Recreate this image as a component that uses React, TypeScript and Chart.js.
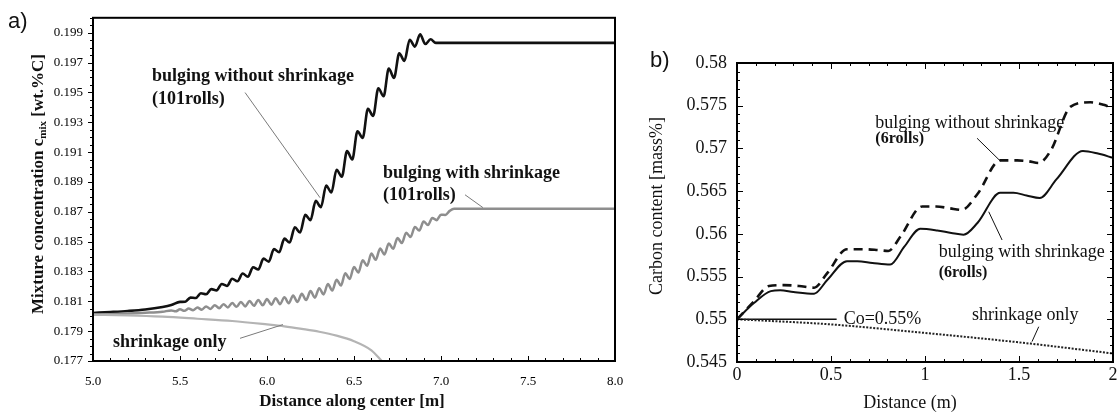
import React, { useEffect, useRef } from 'react';
import { Chart, registerables } from 'chart.js';

Chart.register(...registerables);

const SERIF = '"Liberation Serif", "Times New Roman", serif';
const SANS = '"Liberation Sans", Arial, sans-serif';

// ---------------- Panel a) data ----------------
const aXTicks = [5.0, 5.5, 6.0, 6.5, 7.0, 7.5, 8.0];
const aYTicks = [0.177, 0.179, 0.181, 0.183, 0.185, 0.187, 0.189, 0.191, 0.193, 0.195, 0.197, 0.199];

const aNoShrinkX = [5.0, 5.1, 5.2, 5.3, 5.4, 5.45,
  5.50, 5.53, 5.56, 5.59, 5.62, 5.65, 5.68, 5.71, 5.74, 5.77, 5.80, 5.83, 5.86, 5.89, 5.92, 5.95, 5.98,
  6.01, 6.04, 6.07, 6.10, 6.13, 6.16, 6.19, 6.22, 6.25, 6.28, 6.31, 6.34, 6.37, 6.40, 6.43, 6.46, 6.49,
  6.52, 6.55, 6.58, 6.61, 6.64, 6.67, 6.70, 6.73, 6.76, 6.79, 6.82, 6.85, 6.88, 6.91, 6.94, 6.97, 8.0];
const aNoShrinkY = [0.18022, 0.18028, 0.18035, 0.18045, 0.18062, 0.18075,
  0.18096, 0.18097, 0.18125, 0.18122, 0.18154, 0.18147, 0.18182, 0.18173, 0.18216, 0.18203, 0.18251, 0.18234,
  0.18286, 0.18265, 0.18328, 0.18313, 0.18386, 0.18366, 0.18450, 0.18429, 0.18520, 0.18494, 0.18596, 0.18561,
  0.18679, 0.18644, 0.18773, 0.18731, 0.18876, 0.18829, 0.18982, 0.18935, 0.19107, 0.19050, 0.19240, 0.19195,
  0.19390, 0.19342, 0.19528, 0.19474, 0.19660, 0.19597, 0.19762, 0.19711, 0.19853, 0.19807, 0.19889, 0.19824,
  0.19856, 0.19832, 0.19832];

const aWithShrinkX = [5.0, 5.1, 5.2, 5.3, 5.4,
  5.450, 5.475, 5.500, 5.525, 5.550, 5.575, 5.600, 5.625, 5.650, 5.675, 5.700, 5.725, 5.750, 5.775, 5.800,
  5.825, 5.850, 5.875, 5.900, 5.925, 5.950, 5.975, 6.000, 6.025, 6.050, 6.075, 6.100, 6.125, 6.150, 6.175,
  6.200, 6.225, 6.250, 6.275, 6.300, 6.325, 6.350, 6.375, 6.400, 6.425, 6.450, 6.475, 6.500, 6.525, 6.550,
  6.575, 6.600, 6.625, 6.650, 6.675, 6.700, 6.725, 6.750, 6.775, 6.800, 6.825, 6.850, 6.875, 6.900, 6.925,
  6.950, 6.975, 7.000, 7.025, 7.050, 7.075, 8.0];
const aWithShrinkY = [0.18011, 0.18014, 0.18018, 0.18023, 0.18030,
  0.18039, 0.18033, 0.18046, 0.18036, 0.18052, 0.18040, 0.18058, 0.18044, 0.18066, 0.18049, 0.18074, 0.18054,
  0.18081, 0.18059, 0.18089, 0.18063, 0.18096, 0.18066, 0.18102, 0.18070, 0.18109, 0.18073, 0.18115, 0.18077,
  0.18121, 0.18081, 0.18128, 0.18087, 0.18139, 0.18096, 0.18150, 0.18108, 0.18169, 0.18124, 0.18188, 0.18146,
  0.18216, 0.18172, 0.18245, 0.18206, 0.18288, 0.18249, 0.18330, 0.18293, 0.18375, 0.18338, 0.18420, 0.18378,
  0.18454, 0.18414, 0.18488, 0.18452, 0.18524, 0.18491, 0.18560, 0.18531, 0.18598, 0.18574, 0.18635, 0.18611,
  0.18658, 0.18644, 0.18680, 0.18679, 0.18706, 0.18720, 0.18720];

const aShrinkOnlyX = [5.0, 5.2, 5.4, 5.6, 5.8, 6.0, 6.1, 6.2, 6.3, 6.4, 6.5, 6.6, 6.66];
const aShrinkOnlyY = [0.18011, 0.18006, 0.17997, 0.17983, 0.17968, 0.17945, 0.17932, 0.17915, 0.17896, 0.17870, 0.17833, 0.17772, 0.17700];

const aNotes = [
  { text: 'bulging without shrinkage', x: 5.339, y: 0.19605 },
  { text: '(101rolls)', x: 5.339, y: 0.19453 },
  { text: 'bulging with shrinkage', x: 6.667, y: 0.18959 },
  { text: '(101rolls)', x: 6.667, y: 0.18807 },
  { text: 'shrinkage only', x: 5.115, y: 0.17825 },
];
const aLeaders = [
  [5.874, 0.19499, 6.305, 0.18794],
  [7.138, 0.18814, 7.241, 0.18728],
  [5.845, 0.17852, 6.092, 0.17944],
];

// ---------------- Panel b) data ----------------
const bXTicks = [0, 0.5, 1, 1.5, 2];
const bYTicks = [0.545, 0.55, 0.555, 0.56, 0.565, 0.57, 0.575, 0.58];

const bNoShrinkX = [0, 0.09, 0.17, 0.25, 0.33, 0.41, 0.48, 0.585, 0.67, 0.75, 0.805, 0.87, 0.985, 1.06, 1.13,
  1.195, 1.28, 1.40, 1.49, 1.55, 1.605, 1.67, 1.775, 1.88, 1.95, 2.0];
const bNoShrinkY = [0.5500, 0.5521, 0.5539, 0.5540, 0.5539, 0.5537, 0.5554, 0.5582, 0.5582, 0.5581, 0.5580,
  0.5597, 0.5632, 0.5632, 0.5630, 0.5628, 0.5647, 0.5686, 0.5686, 0.5685, 0.5683, 0.5698, 0.5749, 0.5754,
  0.5751, 0.5747];

const bWithShrinkX = [0, 0.09, 0.18, 0.23, 0.30, 0.41, 0.48, 0.585, 0.64, 0.72, 0.815, 0.89, 0.975, 1.065,
  1.14, 1.205, 1.28, 1.40, 1.47, 1.54, 1.61, 1.70, 1.84, 1.92, 2.0];
const bWithShrinkY = [0.5500, 0.5519, 0.5533, 0.5534, 0.5532, 0.5530, 0.5546, 0.5568, 0.5568, 0.5566, 0.5564,
  0.5585, 0.5606, 0.5604, 0.5601, 0.5599, 0.5613, 0.5648, 0.5648, 0.5645, 0.5642, 0.5664, 0.5697, 0.5694, 0.5689];

const bShrinkOnlyX = [0, 0.5, 1.0, 1.5, 2.0];
const bShrinkOnlyY = [0.5500, 0.5494, 0.5484, 0.5473, 0.5460];

const bCoX = [0, 0.53];
const bCoY = [0.55, 0.55];

const bNotes = [
  { text: 'bulging without shrinkage', x: 0.736, y: 0.57294, bold: false },
  { text: '(6rolls)', x: 0.736, y: 0.57107, bold: true },
  { text: 'bulging with shrinkage', x: 1.073, y: 0.55779, bold: false },
  { text: '(6rolls)', x: 1.073, y: 0.55538, bold: true },
  { text: 'shrinkage only', x: 1.25, y: 0.5505, bold: false },
  { text: 'Co=0.55%', x: 0.5676, y: 0.55, bold: false },
];
const bLeaders = [
  [1.277, 0.57119, 1.4005, 0.56853],
  [1.41, 0.55928, 1.339, 0.56259],
  [1.605, 0.54913, 1.569, 0.54738],
];

const pts = (xs: number[], ys: number[]) => xs.map((x, i) => ({ x, y: ys[i] }));

// ---------------- decoration plugin ----------------
const decorPlugin = {
  id: 'decor',
  afterDraw(chart: any, _a: any, o: any) {
    const { ctx, chartArea: ca, scales } = chart;
    const xs = scales.x, ys = scales.y;
    ctx.save();
    // frame
    ctx.strokeStyle = '#000';
    ctx.lineWidth = o.frameWidth;
    ctx.strokeRect(ca.left, ca.top, ca.right - ca.left, ca.bottom - ca.top);
    // ticks
    ctx.lineWidth = 1;
    ctx.beginPath();
    const t = o.ticks;
    const nx = Math.round((xs.max - xs.min) / t.xStep);
    for (let i = 0; i <= nx; i++) {
      const px = Math.round(xs.getPixelForValue(xs.min + i * t.xStep)) + 0.5;
      const len = i % t.xMajor === 0 ? t.majorLen : t.minorLen;
      if (t.bottom) { ctx.moveTo(px, ca.bottom); ctx.lineTo(px, ca.bottom + (t.bottom === 'in' ? -len : len)); }
      if (t.top) { ctx.moveTo(px, ca.top); ctx.lineTo(px, ca.top + len); }
    }
    const ny = Math.round((ys.max - ys.min) / t.yStep);
    for (let i = 0; i <= ny; i++) {
      const py = Math.round(ys.getPixelForValue(ys.min + i * t.yStep)) + 0.5;
      const len = i % t.yMajor === 0 ? t.majorLen : t.minorLen;
      if (t.left) { ctx.moveTo(ca.left, py); ctx.lineTo(ca.left + (t.left === 'in' ? len : -len), py); }
      if (t.right) { ctx.moveTo(ca.right, py); ctx.lineTo(ca.right - len, py); }
    }
    ctx.stroke();
    // leader lines
    ctx.strokeStyle = o.leaderColor;
    ctx.lineWidth = 1;
    for (const l of o.leaders) {
      ctx.beginPath();
      ctx.moveTo(xs.getPixelForValue(l[0]), ys.getPixelForValue(l[1]));
      ctx.lineTo(xs.getPixelForValue(l[2]), ys.getPixelForValue(l[3]));
      ctx.stroke();
    }
    // notes
    ctx.fillStyle = '#111';
    ctx.textBaseline = 'middle';
    ctx.textAlign = 'left';
    for (const n of o.notes) {
      ctx.font = n.bold ? o.boldFont : o.noteFont;
      ctx.fillText(n.text, xs.getPixelForValue(n.x), ys.getPixelForValue(n.y));
    }
    // x title
    ctx.textAlign = 'center';
    ctx.font = o.xTitle.font;
    ctx.fillText(o.xTitle.text, o.xTitle.cx, o.xTitle.cy);
    // y title (rotated, may contain subscript parts)
    ctx.save();
    ctx.translate(o.yTitle.cx, o.yTitle.cy);
    ctx.rotate(-Math.PI / 2);
    ctx.textAlign = 'left';
    let total = 0;
    for (const p of o.yTitle.parts) { ctx.font = p.font; total += ctx.measureText(p.text).width; }
    let xx = -total / 2;
    for (const p of o.yTitle.parts) {
      ctx.font = p.font;
      ctx.fillText(p.text, xx, p.dy || 0);
      xx += ctx.measureText(p.text).width;
    }
    ctx.restore();
    // panel label
    ctx.textAlign = 'left';
    ctx.font = o.panel.font;
    ctx.fillText(o.panel.text, o.panel.x, o.panel.y);
    ctx.restore();
  },
};

const lineDs = (data: any[], color: string, width: number, dash: number[] = []) => ({
  data,
  borderColor: color,
  backgroundColor: color,
  borderWidth: width,
  borderDash: dash,
  pointRadius: 0,
  fill: false,
  cubicInterpolationMode: 'monotone',
});

function configA(): any {
  return {
    type: 'line',
    data: {
      datasets: [
        lineDs(pts(aShrinkOnlyX, aShrinkOnlyY), '#b4b4b4', 2.2),
        lineDs(pts(aWithShrinkX, aWithShrinkY), '#8e8e8e', 2.5),
        lineDs(pts(aNoShrinkX, aNoShrinkY), '#111111', 2.6),
      ],
    },
    plugins: [decorPlugin],
    options: {
      responsive: false,
      animation: false,
      devicePixelRatio: 1,
      layout: { padding: { top: 12, right: 25, left: 0, bottom: 0 } },
      plugins: {
        legend: { display: false },
        tooltip: { enabled: false },
        decor: {
          frameWidth: 2,
          ticks: { xStep: 0.1, xMajor: 5, yStep: 0.0005, yMajor: 4, majorLen: 5, minorLen: 3, bottom: 'in', left: 'out' },
          leaders: aLeaders,
          leaderColor: '#7a7a7a',
          notes: aNotes.map((n) => ({ ...n, bold: true })),
          boldFont: `bold 18px ${SERIF}`,
          noteFont: `bold 18px ${SERIF}`,
          xTitle: { text: 'Distance along center [m]', font: `bold 17px ${SERIF}`, cx: 352, cy: 402 },
          yTitle: {
            cx: 39, cy: 184,
            parts: [
              { text: 'Mixture concentration c', font: `bold 17px ${SERIF}` },
              { text: 'mix', font: `bold 11px ${SERIF}`, dy: 4 },
              { text: ' [wt.%C]', font: `bold 17px ${SERIF}` },
            ],
          },
          panel: { text: 'a)', font: `22px ${SANS}`, x: 8, y: 22 },
        },
      },
      scales: {
        x: {
          type: 'linear', min: 5, max: 8,
          afterBuildTicks: (s: any) => { s.ticks = aXTicks.map((v) => ({ value: v })); },
          afterFit: (s: any) => { s.height = 53; },
          ticks: { callback: (v: any) => Number(v).toFixed(1), font: { family: SERIF, size: 13 }, color: '#000', padding: 13, maxRotation: 0, autoSkip: false },
          grid: { display: false, drawTicks: false },
          border: { display: false },
        },
        y: {
          type: 'linear', min: 0.177, max: 0.2,
          afterBuildTicks: (s: any) => { s.ticks = aYTicks.map((v) => ({ value: v })); },
          afterFit: (s: any) => { s.width = 93; },
          ticks: { callback: (v: any) => Number(v).toFixed(3), font: { family: SERIF, size: 13 }, color: '#000', padding: 10, autoSkip: false },
          grid: { display: false, drawTicks: false },
          border: { display: false },
        },
      },
    },
  };
}

function configB(): any {
  return {
    type: 'line',
    data: {
      datasets: [
        lineDs(pts(bShrinkOnlyX, bShrinkOnlyY), '#222222', 2, [2, 1.5]),
        lineDs(pts(bCoX, bCoY), '#111111', 1.5),
        lineDs(pts(bNoShrinkX, bNoShrinkY), '#111111', 2.6, [9, 6]),
        lineDs(pts(bWithShrinkX, bWithShrinkY), '#111111', 2),
      ],
    },
    plugins: [decorPlugin],
    options: {
      responsive: false,
      animation: false,
      devicePixelRatio: 1,
      layout: { padding: { top: 63, right: 7, left: 0, bottom: 0 } },
      plugins: {
        legend: { display: false },
        tooltip: { enabled: false },
        decor: {
          frameWidth: 2,
          ticks: { xStep: 0.1, xMajor: 5, yStep: 0.001, yMajor: 5, majorLen: 6, minorLen: 3, bottom: 'in', top: 'in', left: 'in', right: 'in' },
          leaders: bLeaders,
          leaderColor: '#111',
          notes: bNotes,
          boldFont: `bold 16px ${SERIF}`,
          noteFont: `18px ${SERIF}`,
          xTitle: { text: 'Distance (m)', font: `18px ${SERIF}`, cx: 270, cy: 403 },
          yTitle: {
            cx: 17, cy: 206,
            parts: [{ text: 'Carbon content [mass%]', font: `18px ${SERIF}` }],
          },
          panel: { text: 'b)', font: `22px ${SANS}`, x: 10, y: 61 },
        },
      },
      scales: {
        x: {
          type: 'linear', min: 0, max: 2,
          afterBuildTicks: (s: any) => { s.ticks = bXTicks.map((v) => ({ value: v })); },
          afterFit: (s: any) => { s.height = 52; },
          ticks: { callback: (v: any) => String(v), font: { family: SERIF, size: 18 }, color: '#111', padding: 2, maxRotation: 0, autoSkip: false },
          grid: { display: false, drawTicks: false },
          border: { display: false },
        },
        y: {
          type: 'linear', min: 0.545, max: 0.58,
          afterBuildTicks: (s: any) => { s.ticks = bYTicks.map((v) => ({ value: v })); },
          afterFit: (s: any) => { s.width = 97; },
          ticks: { callback: (v: any) => String(Number(Number(v).toFixed(3))), font: { family: SERIF, size: 18 }, color: '#111', padding: 10, autoSkip: false },
          grid: { display: false, drawTicks: false },
          border: { display: false },
        },
      },
    },
  };
}

function ChartCanvas({ make, left, width }: { make: () => any; left: number; width: number }) {
  const ref = useRef<HTMLCanvasElement>(null);
  useEffect(() => {
    const chart = new Chart(ref.current as HTMLCanvasElement, make());
    return () => chart.destroy();
  }, []);
  return (
    <canvas
      ref={ref}
      width={width}
      height={414}
      style={{ position: 'absolute', left, top: 0, width, height: 414, display: 'block' }}
    />
  );
}

export default function App() {
  return (
    <div style={{ position: 'fixed', left: 0, top: 0, width: 1120, height: 414, background: '#fff', overflow: 'hidden' }}>
      <ChartCanvas make={configA} left={0} width={640} />
      <ChartCanvas make={configB} left={640} width={480} />
    </div>
  );
}
